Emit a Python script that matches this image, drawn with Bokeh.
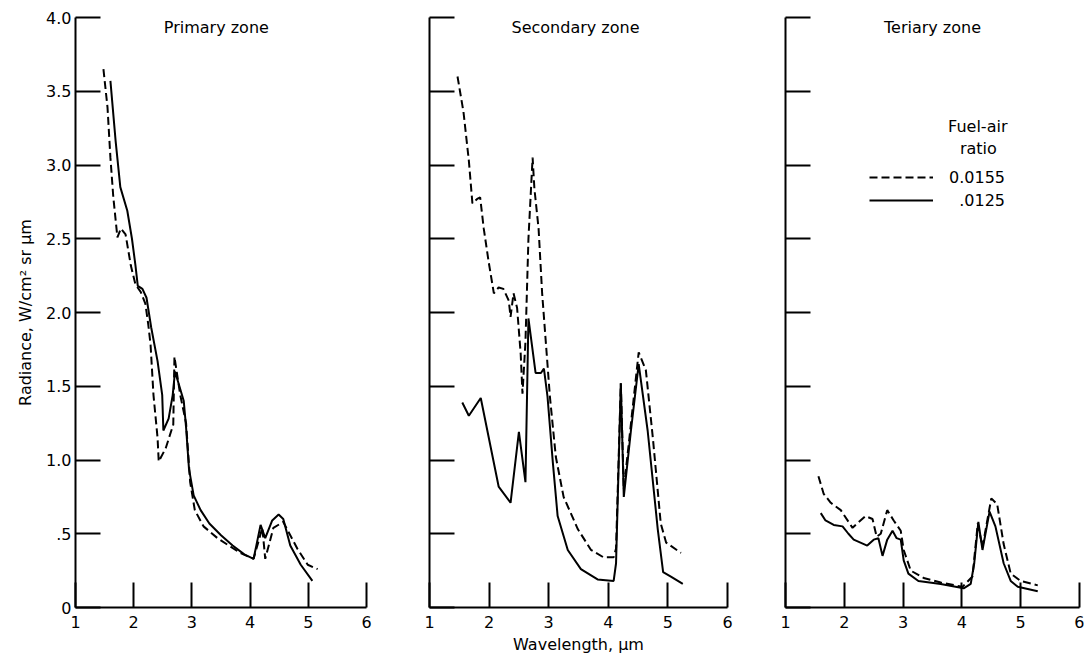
from bokeh.plotting import figure
from bokeh.layouts import row
from bokeh.models import Range1d, FixedTicker, Label, Legend, LegendItem
from bokeh.embed import file_html
from bokeh.resources import INLINE

FONT = "DejaVu Sans"

# ---- axes / labels ----
X_TICKS = [1, 2, 3, 4, 5, 6]
Y_TICKS = [0, 0.5, 1.0, 1.5, 2.0, 2.5, 3.0, 3.5, 4.0]
Y_TICK_LABELS = ["0", ".5", "1.0", "1.5", "2.0", "2.5", "3.0", "3.5", "4.0"]
PANEL_TITLES = ["Primary zone", "Secondary zone", "Teriary zone"]
SERIES_LABELS = ["0.0155", "\u2007.0125"]

# ---- Primary zone ----
p1_dash_x = [1.48, 1.55, 1.60, 1.65, 1.72, 1.78, 1.86, 1.95, 2.03, 2.12, 2.20, 2.25, 2.29, 2.34,
             2.41, 2.43, 2.55, 2.68, 2.70, 2.80, 2.90, 2.97, 3.05, 3.20, 3.44, 3.83, 4.06, 4.21,
             4.26, 4.40, 4.57, 4.81, 4.99, 5.16]
p1_dash_y = [3.65, 3.39, 3.05, 2.78, 2.51, 2.57, 2.53, 2.32, 2.19, 2.14, 2.06, 1.92, 1.78, 1.44,
             1.15, 0.99, 1.08, 1.24, 1.70, 1.44, 1.25, 0.85, 0.66, 0.55, 0.47, 0.37, 0.33, 0.54,
             0.33, 0.54, 0.58, 0.40, 0.29, 0.26]
p1_sol_x = [1.60, 1.69, 1.77, 1.89, 1.97, 2.03, 2.07, 2.15, 2.22, 2.30, 2.41, 2.49, 2.51, 2.60,
            2.67, 2.71, 2.77, 2.86, 2.90, 2.95, 3.03, 3.15, 3.30, 3.50, 3.70, 3.90, 4.06, 4.18,
            4.26, 4.38, 4.49, 4.57, 4.69, 4.87, 5.07]
p1_sol_y = [3.57, 3.16, 2.85, 2.69, 2.50, 2.32, 2.18, 2.16, 2.10, 1.90, 1.67, 1.44, 1.20, 1.28,
            1.44, 1.60, 1.52, 1.40, 1.22, 0.94, 0.76, 0.66, 0.57, 0.49, 0.42, 0.36, 0.33, 0.56,
            0.47, 0.59, 0.63, 0.60, 0.42, 0.29, 0.18]

# ---- Secondary zone ----
p2_dash_x = [1.47, 1.57, 1.66, 1.72, 1.80, 1.85, 1.91, 1.99, 2.08, 2.16, 2.24, 2.33, 2.36, 2.41,
             2.47, 2.53, 2.56, 2.61, 2.66, 2.73, 2.76, 2.83, 2.89, 2.97, 3.02, 3.12, 3.25, 3.49,
             3.71, 3.92, 4.09, 4.13, 4.21, 4.26, 4.51, 4.63, 4.75, 4.88, 4.97, 5.22]
p2_dash_y = [3.60, 3.36, 3.03, 2.74, 2.77, 2.78, 2.57, 2.35, 2.13, 2.17, 2.16, 2.08, 1.97, 2.13,
             2.03, 1.72, 1.45, 1.80, 2.50, 3.05, 2.84, 2.57, 2.13, 1.70, 1.43, 1.02, 0.75, 0.53,
             0.39, 0.34, 0.34, 0.40, 1.52, 0.80, 1.73, 1.61, 1.14, 0.57, 0.44, 0.37]
p2_sol_x = [1.55, 1.66, 1.86, 2.16, 2.36, 2.50, 2.61, 2.66, 2.78, 2.87, 2.92, 2.98, 3.07, 3.15,
            3.32, 3.54, 3.82, 4.09, 4.13, 4.21, 4.26, 4.38, 4.51, 4.66, 4.83, 4.92, 5.05, 5.25]
p2_sol_y = [1.39, 1.30, 1.42, 0.82, 0.71, 1.19, 0.85, 1.96, 1.59, 1.59, 1.62, 1.43, 0.98, 0.62,
            0.39, 0.26, 0.19, 0.18, 0.30, 1.52, 0.75, 1.20, 1.65, 1.20, 0.53, 0.24, 0.21, 0.16]

# ---- Teriary zone ----
p3_dash_x = [1.56, 1.65, 1.77, 1.94, 2.14, 2.22, 2.36, 2.48, 2.55, 2.62, 2.73, 2.84, 2.96, 3.01,
             3.13, 3.35, 3.64, 4.01, 4.18, 4.27, 4.35, 4.50, 4.60, 4.71, 4.83, 5.00, 5.29]
p3_dash_y = [0.89, 0.77, 0.71, 0.66, 0.54, 0.57, 0.62, 0.60, 0.48, 0.50, 0.66, 0.59, 0.52, 0.39,
             0.25, 0.20, 0.17, 0.14, 0.21, 0.57, 0.41, 0.74, 0.70, 0.43, 0.23, 0.18, 0.15]
p3_sol_x = [1.60, 1.68, 1.82, 1.97, 2.07, 2.16, 2.39, 2.50, 2.58, 2.65, 2.73, 2.82, 2.89, 2.96,
            3.01, 3.09, 3.26, 3.64, 4.03, 4.15, 4.21, 4.28, 4.35, 4.47, 4.57, 4.71, 4.83, 4.95, 5.29]
p3_sol_y = [0.64, 0.59, 0.56, 0.55, 0.50, 0.46, 0.42, 0.46, 0.47, 0.35, 0.46, 0.52, 0.47, 0.46,
            0.32, 0.23, 0.18, 0.16, 0.13, 0.16, 0.30, 0.58, 0.39, 0.65, 0.55, 0.30, 0.18, 0.14, 0.11]

DASH = "8 4"
LW = 2
TOP, FH, BOTTOM = 17, 590, 51


def make_panel(fw, left, right, show_ylabels, xlabel=None):
    p = figure(frame_width=fw, frame_height=FH, output_backend="svg", toolbar_location=None,
               x_range=Range1d(1, 6), y_range=Range1d(0, 4),
               min_border_left=left, min_border_right=right,
               min_border_top=TOP, min_border_bottom=BOTTOM)
    p.outline_line_color = None
    p.xgrid.visible = False
    p.ygrid.visible = False
    p.background_fill_color = "white"
    p.border_fill_color = "white"
    for ax in (p.xaxis[0], p.yaxis[0]):
        ax.axis_line_width = 2
        ax.axis_line_color = "black"
        ax.major_tick_line_width = 2
        ax.major_tick_line_color = "black"
        ax.major_tick_out = 0
        ax.major_tick_in = 25
        ax.minor_tick_line_color = None
        ax.major_label_text_font = FONT
        ax.major_label_text_font_size = "16px"
        ax.major_label_text_color = "black"
        ax.axis_label_text_font = FONT
        ax.axis_label_text_font_size = "16px"
        ax.axis_label_text_font_style = "normal"
        ax.axis_label_text_color = "black"
    p.xaxis.ticker = FixedTicker(ticks=X_TICKS)
    p.yaxis.ticker = FixedTicker(ticks=Y_TICKS)
    p.xaxis.major_label_standoff = 8
    p.yaxis.major_label_standoff = 4
    if show_ylabels:
        p.yaxis.major_label_overrides = {t: s for t, s in zip(Y_TICKS, Y_TICK_LABELS)}
        p.yaxis.axis_label = "Radiance, W/cm\u00b2 sr \u00b5m"
        p.yaxis.axis_label_standoff = 8
    else:
        p.yaxis.major_label_overrides = {t: "" for t in Y_TICKS}
    if xlabel:
        p.xaxis.axis_label = xlabel
        p.xaxis.axis_label_standoff = 4
    return p


p1 = make_panel(291, 75, 38, True)
p2 = make_panel(298, 25, 38, False, "Wavelength, \u00b5m")
p3 = make_panel(294, 20, 5, False)

p1.line(p1_dash_x, p1_dash_y, line_color="black", line_width=LW, line_dash=DASH)
p1.line(p1_sol_x, p1_sol_y, line_color="black", line_width=LW)
p2.line(p2_dash_x, p2_dash_y, line_color="black", line_width=LW, line_dash=DASH)
p2.line(p2_sol_x, p2_sol_y, line_color="black", line_width=LW)
r_d3 = p3.line(p3_dash_x, p3_dash_y, line_color="black", line_width=LW, line_dash=DASH)
r_s3 = p3.line(p3_sol_x, p3_sol_y, line_color="black", line_width=LW)

title_pos = [(3.42, 3.93), (3.45, 3.93), (3.50, 3.93)]
for p, t, (tx, ty) in zip((p1, p2, p3), PANEL_TITLES, title_pos):
    p.add_layout(Label(x=tx, y=ty, text=t, text_align="center", text_baseline="middle",
                       text_font=FONT, text_font_size="16px", text_color="black"))

p3.add_layout(Label(x=4.27, y=3.26, text="Fuel-air", text_align="center", text_baseline="middle",
                    text_font=FONT, text_font_size="16px", text_color="black"))
p3.add_layout(Label(x=4.28, y=3.11, text="ratio", text_align="center", text_baseline="middle",
                    text_font=FONT, text_font_size="16px", text_color="black"))

legend = Legend(items=[LegendItem(label=SERIES_LABELS[0], renderers=[r_d3]),
                       LegendItem(label=SERIES_LABELS[1], renderers=[r_s3])],
                location=(84, 397), glyph_width=64, glyph_height=20, label_height=20,
                spacing=3, padding=0, margin=0, border_line_color=None,
                background_fill_alpha=0, label_standoff=16,
                label_text_font=FONT, label_text_font_size="16px", label_text_color="black")
p3.add_layout(legend)

layout = row(p1, p2, p3)
open("out.html", "w").write(file_html(layout, INLINE))
